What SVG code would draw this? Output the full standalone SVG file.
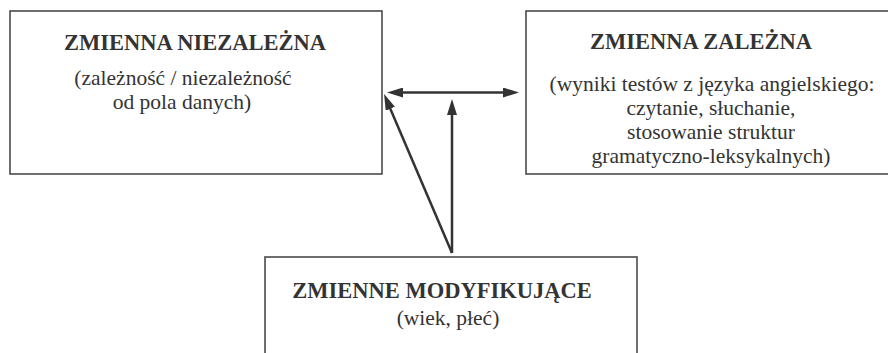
<svg xmlns="http://www.w3.org/2000/svg" width="888" height="353" viewBox="0 0 888 353">
<style>
.box{fill:#fff;stroke:#4a4a4a;stroke-width:1.6}
.t{font-family:"Liberation Serif","Times New Roman",serif;font-weight:bold;font-size:22.5px;fill:#333;text-anchor:middle}
.s{font-family:"Liberation Serif","Times New Roman",serif;font-size:21.5px;fill:#333;text-anchor:middle}
.c{stroke:#333;stroke-width:2.5;fill:none}
</style>
<defs>
<marker id="ah" viewBox="0 0 16 10" refX="8" refY="5" markerWidth="16" markerHeight="10" markerUnits="userSpaceOnUse" orient="auto-start-reverse">
<path d="M0,0 L16,5 L0,10 Z" fill="#333"/>
</marker>
</defs>
<rect width="888" height="353" fill="#fff"/>
<g id="niezalezna">
<rect class="box" x="10" y="11" width="372" height="163"/>
<text class="t" x="195" y="50">ZMIENNA NIEZALEŻNA</text>
<text class="s" x="183" y="85">(zależność / niezależność</text>
<text class="s" x="182" y="109">od pola danych)</text>
</g>
<g id="zalezna">
<rect class="box" x="526" y="11" width="380" height="163"/>
<text class="t" x="701" y="49">ZMIENNA ZALEŻNA</text>
<text class="s" x="712" y="91">(wyniki testów z języka angielskiego:</text>
<text class="s" x="711" y="115">czytanie, słuchanie,</text>
<text class="s" x="711" y="139">stosowanie struktur</text>
<text class="s" x="711" y="163">gramatyczno-leksykalnych)</text>
</g>
<g id="modyfikujace">
<rect class="box" x="265" y="257" width="372" height="120"/>
<text class="t" x="442" y="298">ZMIENNE MODYFIKUJĄCE</text>
<text class="s" x="448" y="325">(wiek, płeć)</text>
</g>
<g id="connectors">
<line class="c" x1="395" y1="92.5" x2="511" y2="92.5" marker-start="url(#ah)" marker-end="url(#ah)"/>
<line class="c" x1="452" y1="253" x2="452" y2="107" marker-end="url(#ah)"/>
<line class="c" x1="452" y1="253" x2="387.2" y2="101.4" marker-end="url(#ah)"/>
</g>
</svg>
